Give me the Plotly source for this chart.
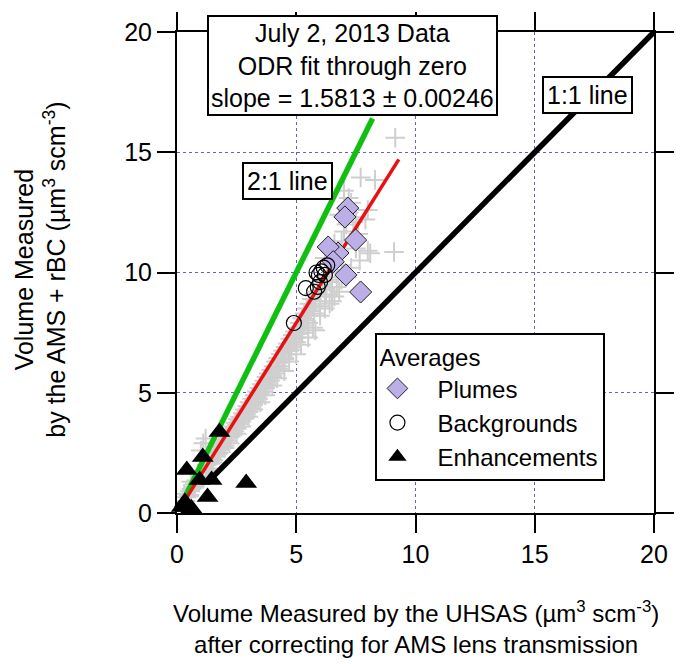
import plotly.graph_objects as go

FONT = "Liberation Sans, Arial, sans-serif"
FS = 25

# Individual 1-s points (UHSAS volume vs AMS + rBC volume)
pts_x = [0.25, 0.35, 0.4, 0.5, 0.55, 0.6, 0.7, 0.75, 0.8, 0.9, 0.95, 1.0, 1.05, 1.1, 1.2, 1.25,
         1.3, 1.35, 1.4, 1.45, 1.5, 1.55, 1.6, 1.65, 1.7, 1.75, 1.8, 1.85, 1.9, 1.95, 2.0, 2.05,
         2.1, 2.15, 2.2, 2.25, 2.3, 2.35, 2.4, 2.45, 2.5, 2.55, 2.6, 2.65, 2.7, 2.75, 2.8, 2.85,
         2.9, 2.95, 3.0, 3.05, 3.1, 3.15, 3.2, 3.25, 3.3, 3.35, 3.4, 3.45, 3.5, 3.55, 3.6, 3.65,
         3.7, 3.75, 3.8, 3.85, 3.9, 3.95, 4.0, 4.05, 4.1, 4.15, 4.2, 4.25, 4.3, 4.35, 4.4, 4.45,
         4.5, 4.55, 4.6, 4.65, 4.7, 4.75, 4.8, 4.85, 4.9, 4.95, 5.0, 5.05, 5.1, 5.15, 5.2, 5.25,
         5.3, 5.35, 5.4, 5.45, 5.5, 5.55, 5.6, 5.65, 5.7, 5.75, 5.8, 5.9, 6.0, 6.1, 6.2, 6.3,
         6.4, 6.5, 6.6, 6.7, 6.8, 6.9, 7.0, 7.1, 7.2, 7.3, 7.0, 7.7, 8.3, 9.15, 7.9, 8.1,
         9.1, 7.66, 7.5, 6.9, 2.0, 2.5, 3.0, 3.5, 4.0, 4.5, 5.0, 5.5, 6.0, 6.5, 5.8, 1.0,
         1.1, 1.2, 0.3, 0.6, 6.2, 6.6, 7.4, 8.0, 7.2, 6.8,
         0.5, 0.75, 1.0, 1.25, 1.5, 1.75, 2.0, 2.25, 2.5, 2.75, 3.0, 3.25, 3.5, 3.75, 4.0, 4.25,
         4.5, 4.75, 5.0, 5.25, 5.5, 5.75, 6.0, 6.25, 6.5, 2.2, 2.7, 3.2, 3.7, 4.2, 4.7, 5.2,
         5.7, 6.2, 6.6, 6.8, 7.1, 7.3, 6.9, 7.5, 8.0, 7.6, 6.4, 6.7]
pts_y = [0.4, 0.5, 0.65, 0.7, 0.9, 1.0, 1.05, 1.2, 1.35, 1.3, 1.5, 1.7, 1.45, 1.75, 1.8, 2.0,
         1.85, 2.15, 2.05, 2.3, 2.2, 2.45, 2.35, 2.6, 2.45, 2.75, 2.6, 2.9, 2.75, 3.05, 2.9, 3.2,
         3.0, 3.3, 3.15, 3.45, 3.3, 3.6, 3.4, 3.75, 3.55, 3.9, 3.7, 4.0, 3.8, 4.15, 3.95, 4.3,
         4.1, 4.45, 4.2, 4.6, 4.35, 4.75, 4.5, 4.9, 4.6, 5.05, 4.75, 5.2, 4.9, 5.35, 5.05, 5.5,
         5.2, 5.65, 5.35, 5.8, 5.5, 5.95, 5.65, 6.1, 5.8, 6.3, 5.95, 6.45, 6.1, 6.6, 6.3, 6.75,
         6.45, 6.9, 6.6, 7.05, 6.75, 7.25, 6.9, 7.4, 7.1, 7.55, 7.3, 7.7, 7.45, 7.9, 7.6, 8.1,
         7.8, 8.3, 8.0, 8.5, 8.2, 8.7, 8.4, 8.9, 8.6, 9.1, 8.8, 9.2, 9.0, 9.5, 9.3, 9.8,
         9.6, 10.0, 10.4, 10.1, 10.9, 11.3, 11.7, 12.0, 12.5, 12.9, 13.4, 13.95, 13.85, 15.6, 12.2, 10.8,
         10.85, 10.5, 11.0, 10.3, 2.7, 3.3, 4.0, 4.6, 5.3, 5.9, 6.6, 7.3, 8.2, 8.8, 7.6, 2.6,
         2.9, 3.1, 0.8, 1.3, 10.6, 11.2, 12.1, 12.6, 13.1, 12.4,
         0.75, 1.1, 1.45, 1.8, 2.1, 2.5, 2.8, 3.2, 3.5, 3.9, 4.3, 4.6, 5.0, 5.3, 5.7, 6.0,
         6.4, 6.8, 7.1, 7.5, 7.9, 8.3, 8.6, 9.1, 9.4, 2.9, 3.6, 4.3, 4.9, 5.6, 6.3, 7.0,
         7.7, 8.5, 9.0, 9.2, 9.8, 10.2, 9.7, 12.3, 10.9, 11.6, 8.7, 9.4]

# Averages
plume_x = [7.16, 7.04, 7.49, 6.75, 6.34, 7.08, 7.70, 6.55]
plume_y = [12.68, 12.31, 11.35, 10.81, 11.06, 9.90, 9.19, 10.45]

bkg_x = [4.9, 5.4, 5.75, 5.9, 5.95, 6.05, 6.15, 6.3, 6.0, 6.2, 5.85]
bkg_y = [7.9, 9.35, 9.2, 9.4, 9.9, 10.05, 10.2, 10.3, 9.6, 9.9, 10.0]

enh_x = [1.78, 1.08, 0.41, 0.95, 1.45, 2.9, 1.28, 0.33, 0.46, 0.2, 0.6]
enh_y = [3.37, 2.33, 1.79, 1.37, 1.37, 1.25, 0.67, 0.46, 0.25, 0.25, 0.2]

# Reference lines and ODR fit
one_x = [1.3, 20.0]
one_y = [1.3, 20.0]
two_x = [0.2, 8.2]
two_y = [0.4, 16.4]
fit_slope = 1.5813
fit_x = [0.2, 9.3]
fit_y = [fit_slope * v for v in fit_x]

tick_vals = [0, 5, 10, 15, 20]

# non-breaking spaces widen the gap between legend symbol and label
PAD = "\u00a0\u00a0\u00a0"

fig = go.Figure()

fig.add_trace(go.Scatter(
    x=pts_x, y=pts_y, mode="markers", showlegend=False,
    marker=dict(symbol="cross-thin", size=14, color="#cfcfcf",
                line=dict(color="#cfcfcf", width=2)),
))
fig.add_trace(go.Scatter(x=one_x, y=one_y, mode="lines", showlegend=False,
                         line=dict(color="black", width=5.5)))
fig.add_trace(go.Scatter(x=two_x, y=two_y, mode="lines", showlegend=False,
                         line=dict(color="#10c010", width=5.5)))
fig.add_trace(go.Scatter(x=fit_x, y=fit_y, mode="lines", showlegend=False,
                         line=dict(color="#e81010", width=3.5)))
fig.add_trace(go.Scatter(
    x=plume_x, y=plume_y, mode="markers", name=PAD + "Plumes", legendrank=1,
    marker=dict(symbol="diamond", size=17, color="#bcaee6",
                line=dict(color="#222222", width=1)),
))
fig.add_trace(go.Scatter(
    x=bkg_x, y=bkg_y, mode="markers", name=PAD + "Backgrounds", legendrank=2,
    marker=dict(symbol="circle-open", size=15, color="black",
                line=dict(color="black", width=1.2)),
))
fig.add_trace(go.Scatter(
    x=enh_x, y=enh_y, mode="markers", name=PAD + "Enhancements", legendrank=3,
    cliponaxis=False,
    marker=dict(symbol="triangle-up", size=19, color="black"),
))

axis_common = dict(
    range=[0, 20], tickvals=tick_vals, showline=True, linecolor="black",
    linewidth=2, mirror="ticks", ticks="outside", ticklen=18, tickwidth=2,
    tickcolor="black", showgrid=True, gridcolor="#6a5fc0", griddash="dot",
    gridwidth=1, zeroline=False, tickfont=dict(size=FS, color="black", family=FONT),
)

box = dict(bordercolor="black", borderwidth=2, bgcolor="white",
           font=dict(size=FS, color="black", family=FONT), showarrow=False)

fig.update_layout(
    width=686, height=664, autosize=False,
    margin=dict(l=177, r=26, t=32, b=151),
    paper_bgcolor="white", plot_bgcolor="white",
    font=dict(family=FONT, size=FS, color="black"),
    xaxis=axis_common,
    yaxis=axis_common,
    legend=dict(
        title=dict(text="Averages", font=dict(size=24)),
        x=0.416, y=0.374, xanchor="left", yanchor="top",
        bgcolor="white", bordercolor="black", borderwidth=2,
        font=dict(size=24), itemwidth=30, tracegroupgap=0,
    ),
    annotations=[
        dict(x=7.37, y=18.6, xref="x", yref="y", borderpad=2,
             text="July 2, 2013 Data<br>ODR fit through zero<br>slope = 1.5813 ± 0.00246",
             **box),
        dict(x=4.64, y=13.8, xref="x", yref="y", borderpad=3, text="2:1 line", **box),
        dict(x=17.2, y=17.4, xref="x", yref="y", borderpad=3, text="1:1 line", **box),
        dict(x=-0.288, y=0.505, xref="paper", yref="paper", textangle=-90, showarrow=False,
             xanchor="center", yanchor="middle",
             text="Volume Measured<br>by the AMS + rBC (µm<sup>3</sup> scm<sup>-3</sup>)",
             font=dict(size=FS, color="black", family=FONT)),
        dict(x=0.5, y=-0.238, xref="paper", yref="paper", showarrow=False,
             xanchor="center", yanchor="middle",
             text="Volume Measured by the UHSAS (µm<sup>3</sup> scm<sup>-3</sup>)<br>after correcting for AMS lens transmission",
             font=dict(size=24, color="black", family=FONT)),
    ],
)

fig.write_html("out.html")
